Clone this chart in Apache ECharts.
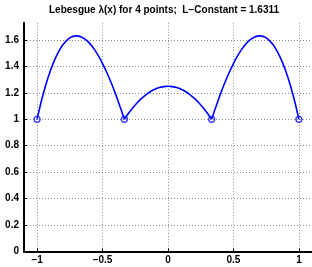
<!DOCTYPE html>
<html>
<head>
<meta charset="utf-8">
<script src="https://cdn.jsdelivr.net/npm/echarts@6/dist/echarts.min.js"></script>
<style>
html,body{margin:0;padding:0;background:#fff;}
#c{width:312px;height:267px;}
</style>
</head>
<body>
<div id="c"></div>
<script>
// Data
const titleText = 'Lebesgue \u03bb(x) for 4 points;  L\u2212Constant = 1.6311';

const leftX = [-1, -0.9667, -0.9333, -0.9, -0.8667, -0.8333, -0.8, -0.7667, -0.7333, -0.7, -0.6667,
               -0.6333, -0.6, -0.5667, -0.5333, -0.5, -0.4667, -0.4333, -0.4, -0.3667, -0.3333];
const leftY = [1, 1.1401, 1.2610, 1.3634, 1.4480, 1.5156, 1.5670, 1.6029, 1.6240, 1.6311, 1.6250,
               1.6064, 1.5760, 1.5346, 1.4830, 1.4219, 1.3520, 1.2741, 1.1890, 1.0974, 1];

const midX = [-0.3333, -0.3, -0.2667, -0.2333, -0.2, -0.1667, -0.1333, -0.1, -0.0667, -0.0333, 0,
              0.0333, 0.0667, 0.1, 0.1333, 0.1667, 0.2, 0.2333, 0.2667, 0.3, 0.3333];
const midY = [1, 1.0475, 1.09, 1.1275, 1.16, 1.1875, 1.21, 1.2275, 1.24, 1.2475, 1.25,
              1.2475, 1.24, 1.2275, 1.21, 1.1875, 1.16, 1.1275, 1.09, 1.0475, 1];

const rightX = [0.3333, 0.3667, 0.4, 0.4333, 0.4667, 0.5, 0.5333, 0.5667, 0.6, 0.6333, 0.6667,
                0.7, 0.7333, 0.7667, 0.8, 0.8333, 0.8667, 0.9, 0.9333, 0.9667, 1];
const rightY = [1, 1.0974, 1.1890, 1.2741, 1.3520, 1.4219, 1.4830, 1.5346, 1.5760, 1.6064, 1.6250,
                1.6311, 1.6240, 1.6029, 1.5670, 1.5156, 1.4480, 1.3634, 1.2610, 1.1401, 1];

const nodeX = [-1, -0.3333, 0.3333, 1];
const nodeY = [1, 1, 1, 1];

const xTicks = [-1, -0.5, 0, 0.5, 1];
const xTickLabels = ['\u22121', '\u22120.5', '0', '0.5', '1'];
const yTicks = [0, 0.2, 0.4, 0.6, 0.8, 1, 1.2, 1.4, 1.6];
const yTickLabels = ['0', '0.2', '0.4', '0.6', '0.8', '1', '1.2', '1.4', '1.6'];

function pairs(xs, ys) { return xs.map((x, i) => [x, ys[i]]); }

const font = 'Liberation Sans, Arial, Helvetica, sans-serif';
const blue = '#0000ff';
const gridLine = { show: true, lineStyle: { color: '#8c8c8c', type: [1, 2], width: 1 } };

const lineSeries = (data) => ({
  type: 'line', data: data, smooth: 0.3, showSymbol: false, symbol: 'none',
  lineStyle: { color: blue, width: 1.6 }, silent: true, animation: false
});

const chart = echarts.init(document.getElementById('c'), null, { renderer: 'canvas' });
chart.setOption({
  animation: false,
  backgroundColor: '#fff',
  title: {
    text: titleText, left: 49, top: 5, padding: 0,
    textStyle: { fontFamily: font, fontWeight: 'bold', fontSize: 10, color: '#000' }
  },
  grid: { left: 24, right: -2, top: 22.8, bottom: 15.5, containLabel: false },
  xAxis: {
    type: 'value', min: -1.1, max: 1.1,
    axisLine: { show: true, onZero: false, lineStyle: { color: '#000', width: 2 } },
    axisTick: { show: true, inside: true, length: 3, customValues: xTicks, lineStyle: { color: '#000', width: 1 } },
    axisLabel: {
      customValues: xTicks, margin: 4, color: '#000', fontFamily: font, fontWeight: 'bold', fontSize: 10,
      formatter: (v) => { const i = xTicks.findIndex(t => Math.abs(t - v) < 1e-6); return i >= 0 ? xTickLabels[i] : ''; }
    },
    splitLine: gridLine
  },
  yAxis: {
    type: 'value', min: 0, max: 1.73,
    axisLine: { show: true, onZero: false, lineStyle: { color: '#000', width: 2 } },
    axisTick: { show: true, inside: true, length: 3, customValues: yTicks, lineStyle: { color: '#000', width: 1 } },
    axisLabel: {
      customValues: yTicks, margin: 5, color: '#000', fontFamily: font, fontWeight: 'bold', fontSize: 10,
      formatter: (v) => { const i = yTicks.findIndex(t => Math.abs(t - v) < 1e-6); return i >= 0 ? yTickLabels[i] : ''; }
    },
    splitLine: gridLine
  },
  series: [
    lineSeries(pairs(leftX, leftY)),
    lineSeries(pairs(midX, midY)),
    lineSeries(pairs(rightX, rightY)),
    {
      type: 'scatter', data: pairs(nodeX, nodeY), symbol: 'circle', symbolSize: 6,
      itemStyle: { color: 'rgba(0,0,0,0)', borderColor: blue, borderWidth: 1.3 }, silent: true, animation: false
    }
  ]
});
</script>
</body>
</html>
